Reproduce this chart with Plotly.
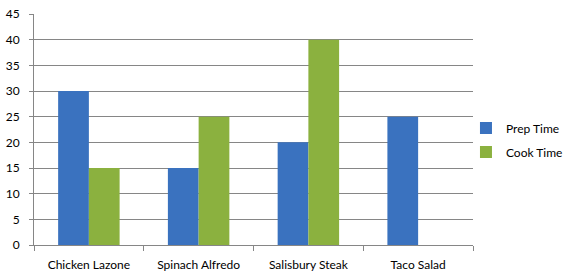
import plotly.graph_objects as go

categories = ["Chicken Lazone", "Spinach Alfredo", "Salisbury Steak", "Taco Salad"]
prep_time = [30, 15, 20, 25]
cook_time = [15, 25, 40, None]
y_ticks = [0, 5, 10, 15, 20, 25, 30, 35, 40, 45]

fig = go.Figure()
fig.add_trace(go.Bar(name="Prep Time", x=categories, y=prep_time, legendgroup="a",
                     marker=dict(color="#3a72bf", line=dict(width=0))))
fig.add_trace(go.Bar(name="Cook Time", x=categories, y=cook_time, legendgroup="b",
                     marker=dict(color="#8bb13f", line=dict(width=0))))

font = dict(family="Lato, Carlito, Calibri, sans-serif", size=12, color="#000000")
fig.update_layout(
    width=576, height=279,
    margin=dict(l=34, r=103, t=14, b=34, autoexpand=False),
    paper_bgcolor="white", plot_bgcolor="white",
    barmode="group", bargap=0.44, bargroupgap=0,
    font=font,
    showlegend=True,
    legend=dict(x=0.984, y=0.455, xanchor="left", yanchor="middle",
                font=font, itemwidth=30, tracegroupgap=5, traceorder="grouped",
                bgcolor="rgba(0,0,0,0)"),
)
fig.update_xaxes(showline=True, linecolor="#868686", linewidth=1,
                 ticks="outside", tickson="boundaries", ticklen=5,
                 tickcolor="#868686", showgrid=False, tickfont=font,
                 ticklabelstandoff=9)
fig.update_yaxes(range=[0, 45], tickvals=y_ticks, showline=True,
                 linecolor="#868686", linewidth=1, ticks="outside", ticklen=4,
                 tickcolor="#868686", showgrid=True, gridcolor="#868686",
                 gridwidth=1, zeroline=False, tickfont=font,
                 ticklabelstandoff=7)

fig.write_html("out.html")
